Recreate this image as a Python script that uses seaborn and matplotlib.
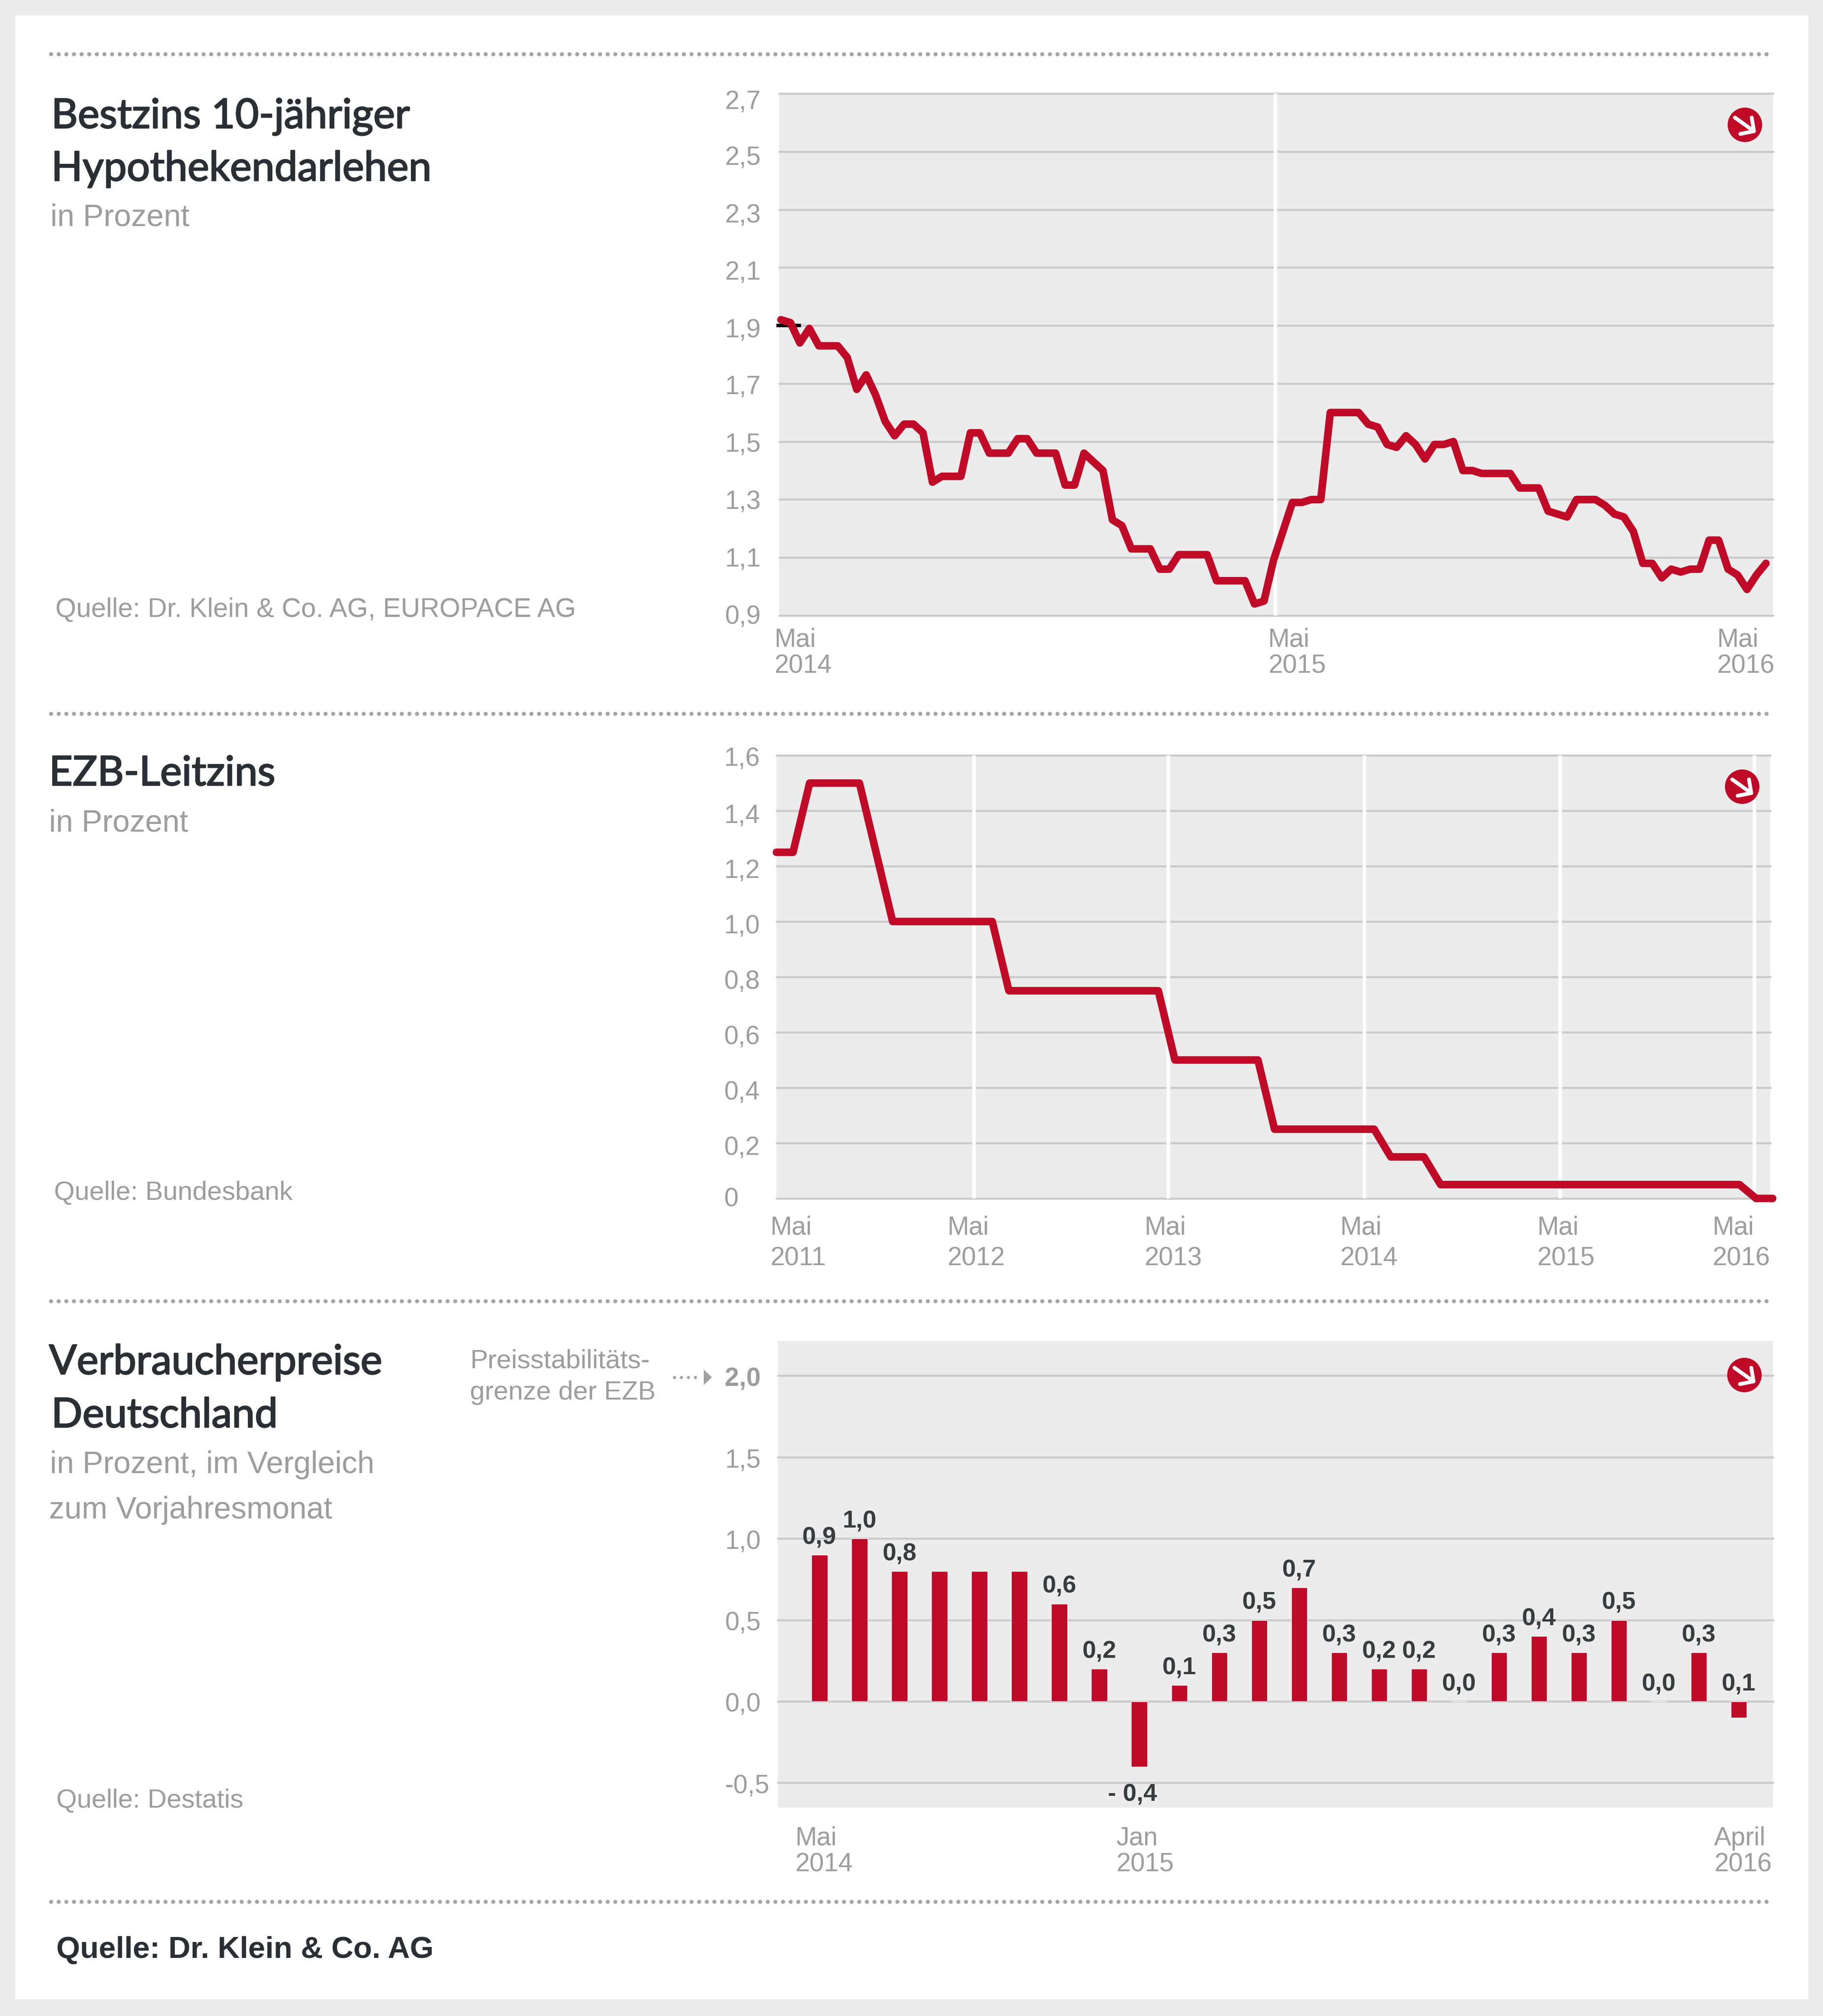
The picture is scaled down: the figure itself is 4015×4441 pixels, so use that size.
import matplotlib
matplotlib.use("Agg")
import matplotlib.pyplot as plt
import matplotlib.patheffects as pe
import seaborn as sns
from matplotlib.lines import Line2D
from matplotlib.patches import Circle, Rectangle, Polygon
from matplotlib.transforms import Affine2D

# Daten
bestzins = [1.92, 1.91, 1.84, 1.89, 1.83, 1.83, 1.83, 1.79, 1.68, 1.73, 1.66, 1.57, 1.52, 1.56, 1.56,
            1.53, 1.36, 1.38, 1.38, 1.38, 1.53, 1.53, 1.46, 1.46, 1.46, 1.51, 1.51, 1.46, 1.46, 1.46,
            1.35, 1.35, 1.46, 1.43, 1.40, 1.23, 1.21, 1.13, 1.13, 1.13, 1.06, 1.06, 1.11, 1.11, 1.11,
            1.11, 1.02, 1.02, 1.02, 1.02, 0.94, 0.95, 1.09, 1.19, 1.29, 1.29, 1.30, 1.30, 1.60, 1.60,
            1.60, 1.60, 1.56, 1.55, 1.49, 1.48, 1.52, 1.49, 1.44, 1.49, 1.49, 1.50, 1.40, 1.40, 1.39,
            1.39, 1.39, 1.39, 1.34, 1.34, 1.34, 1.26, 1.25, 1.24, 1.30, 1.30, 1.30, 1.28, 1.25, 1.24,
            1.19, 1.08, 1.08, 1.03, 1.06, 1.05, 1.06, 1.06, 1.16, 1.16, 1.06, 1.04, 0.99, 1.04, 1.08]
leitzins = [1.25, 1.25, 1.5, 1.5, 1.5, 1.5, 1.25, 1.0, 1.0, 1.0, 1.0, 1.0, 1.0, 1.0,
            0.75, 0.75, 0.75, 0.75, 0.75, 0.75, 0.75, 0.75, 0.75, 0.75,
            0.5, 0.5, 0.5, 0.5, 0.5, 0.5, 0.25, 0.25, 0.25, 0.25, 0.25, 0.25, 0.25,
            0.15, 0.15, 0.15, 0.05, 0.05, 0.05, 0.05, 0.05, 0.05, 0.05, 0.05, 0.05, 0.05,
            0.05, 0.05, 0.05, 0.05, 0.05, 0.05, 0.05, 0.05, 0.05, 0.0, 0.0]
vpi = [0.9, 1.0, 0.8, 0.8, 0.8, 0.8, 0.6, 0.2, -0.4, 0.1, 0.3, 0.5, 0.7, 0.3, 0.2, 0.2, 0.0, 0.3, 0.4,
       0.3, 0.5, 0.0, 0.3, -0.1]
vpi_labels = ['0,9', '1,0', '0,8', '', '', '', '0,6', '0,2', '- 0,4', '0,1', '0,3', '0,5', '0,7', '0,3',
              '0,2', '0,2', '0,0', '0,3', '0,4', '0,3', '0,5', '0,0', '0,3', '0,1']

yticks1 = [0.9, 1.1, 1.3, 1.5, 1.7, 1.9, 2.1, 2.3, 2.5, 2.7]
ylabels1 = ['0,9', '1,1', '1,3', '1,5', '1,7', '1,9', '2,1', '2,3', '2,5', '2,7']
yticks2 = [0, 0.2, 0.4, 0.6, 0.8, 1.0, 1.2, 1.4, 1.6]
ylabels2 = ['0', '0,2', '0,4', '0,6', '0,8', '1,0', '1,2', '1,4', '1,6']
yticks3 = [-0.5, 0, 0.5, 1.0, 1.5, 2.0]
ylabels3 = ['-0,5', '0,0', '0,5', '1,0', '1,5', '2,0']

xticks1 = [0, 52, 104]
xlabels1 = ['Mai\n2014', 'Mai\n2015', 'Mai\n2016']
xticks2 = [0, 11.9, 23.6, 35.4, 47.2, 58.9]
xlabels2 = ['Mai\n2011', 'Mai\n2012', 'Mai\n2013', 'Mai\n2014', 'Mai\n2015', 'Mai\n2016']
xticks3 = [0, 8, 23]
xlabels3 = ['Mai\n2014', 'Jan\n2015', 'April\n2016']

ROT = '#BF0A28'
GRAU = '#9D9D9D'
DUNKEL = '#2A2E35'
W, H = 4016, 4441

sns.set_style('white')
plt.rcParams['font.family'] = ['Liberation Sans', 'DejaVu Sans']

fig = plt.figure(figsize=(W / 100, H / 100), dpi=100, facecolor='#ECECEC')
px = Affine2D().scale(1, -1).translate(0, H)  # Pixel von oben links


def make_axes(x0, x1, y0, y1):
    ax = fig.add_axes([x0 / W, 1 - y1 / H, (x1 - x0) / W, (y1 - y0) / H], facecolor='#ECECEC')
    sns.despine(ax=ax, left=True, bottom=True)
    return ax


def style_axes(ax, yticks, ylabels, xticks, xlabels, xshift, ypad, ylab_dy, xlab_pad, spacing):
    ax.set_yticks(yticks)
    ax.set_yticklabels(ylabels, ha='left', va='center', fontsize=41, color=GRAU)
    ax.set_xticks(xticks)
    ax.set_xticklabels(xlabels, ha='left', va='top', fontsize=41, color=GRAU, linespacing=spacing)
    ax.tick_params(axis='both', length=0)
    ax.tick_params(axis='y', pad=ypad)
    ax.tick_params(axis='x', pad=xlab_pad)
    ax.set_axisbelow(True)
    ax.yaxis.grid(True, color='#CBCBCD', lw=3.3)
    ax.xaxis.grid(False)
    for g in ax.get_ygridlines():
        g.set_clip_on(False)
    for lab, dy in zip(ax.get_yticklabels(), ylab_dy):
        lab.set_transform(lab.get_transform() + Affine2D().translate(0, -dy))
    for lab, dx in zip(ax.get_xticklabels(), xshift):
        lab.set_transform(lab.get_transform() + Affine2D().translate(dx, 0))


def trend_icon(cx, cy):
    fig.add_artist(Circle((cx, cy), 38, transform=px, color=ROT, lw=0))
    arrow = dict(transform=px, color='white', lw=6, solid_capstyle='round', solid_joinstyle='round')
    fig.add_artist(Line2D([cx - 22, cx + 20], [cy - 16, cy + 14], **arrow))
    fig.add_artist(Line2D([cx + 15, cx + 20, cx - 10], [cy - 16, cy + 14, cy + 20], **arrow))


# Hintergrund und gepunktete Trennlinien
fig.add_artist(Rectangle((34, 34), 3949, 4370, transform=px, color='white', lw=0, zorder=-1))
for y in [119, 1572, 2866, 4189]:
    fig.add_artist(Line2D([112, 3906], [y, y], transform=px, color='#A5A5A5', lw=6.5,
                          ls=(0, (0.01, 1.85)), dash_capstyle='round'))

line_kws = dict(color=ROT, lw=12, errorbar=None, clip_on=False, zorder=4,
                solid_capstyle='round', solid_joinstyle='round')

# Bestzins
ax1 = make_axes(1716, 3905, 206, 1356)
sns.lineplot(x=list(range(len(bestzins))), y=bestzins, ax=ax1, **line_kws)
ax1.set_xlim(-0.19, 104.75)
ax1.set_ylim(0.9, 2.7)
ax1.set(xlabel=None, ylabel=None)
style_axes(ax1, yticks1, ylabels1, xticks1, xlabels1, [-15, -12, -108], 86,
           [3, 4, 6, 7, 8, 11, 12, 14, 15, 20], 19, 1.10)
for t in xticks1[1:2]:
    ax1.axvline(t + 0.2, color='white', lw=5.8, zorder=1)
ax1.hlines(1.9, -0.48, 2.1, color='black', lw=5.5, zorder=3, clip_on=False)

# Leitzins
ax2 = make_axes(1710, 3899, 1664, 2640)
sns.lineplot(x=list(range(len(leitzins))), y=leitzins, ax=ax2, **line_kws)
ax2.set_xlim(0.055, 59.86)
ax2.set_ylim(0, 1.6)
ax2.set(xlabel=None, ylabel=None)
style_axes(ax2, yticks2, ylabels2, xticks2, xlabels2, [-14, -59, -53, -53, -51, -93], 83,
           [3, 11, 11, 11, 11, 11, 11, 11, 9], 27, 1.34)
for t in xticks2[1:]:
    ax2.axvline(t, color='white', lw=5.8, zorder=1)

# Verbraucherpreise
ax3 = make_axes(1713, 3905, 2954, 3982)
sns.barplot(x=list(range(len(vpi))), y=vpi, ax=ax3, color=ROT, saturation=1, width=0.4, zorder=3)
ax3.set_xlim(-1.045, 23.86)
ax3.set_ylim(-0.652, 2.212)
ax3.set(xlabel=None, ylabel=None)
style_axes(ax3, yticks3, ylabels3, xticks3, xlabels3, [-54, -51, -54], 84, [8] * 6, 29.5, 1.09)
ax3.get_yticklabels()[-1].set_fontweight('bold')
for i, (lab, v) in enumerate(zip(vpi_labels, vpi)):
    if lab.startswith('-'):
        ax3.annotate(lab, (i, v), xytext=(-11, -55), textcoords='offset points', ha='center',
                     va='baseline', fontsize=39, fontweight='bold', color='#373C3F', zorder=5)
    elif lab:
        ax3.annotate(lab, (i, max(v, 0)), xytext=(0, 17), textcoords='offset points', ha='center',
                     va='baseline', fontsize=39, fontweight='bold', color='#373C3F', zorder=5)

trend_icon(3843, 275)
trend_icon(3837, 1733)
trend_icon(3842, 3029)

# Titel links
title_font = dict(family=['Lato', 'Open Sans'], fontsize=65, color=DUNKEL, transform=px, va='baseline',
                  path_effects=[pe.withStroke(linewidth=1.8, foreground=DUNKEL)])
sub_font = dict(fontsize=49, color=GRAU, transform=px, va='baseline')
src_font = dict(fontsize=42, color=GRAU, transform=px, va='baseline')

fig.text(113, 282, 'Bestzins 10-jähriger', **title_font)
fig.text(113, 398, 'Hypothekendarlehen', **title_font)
fig.text(111, 498, 'in Prozent', **sub_font)
fig.text(122, 1359, 'Quelle: Dr. Klein & Co. AG, EUROPACE AG', fontsize=42.5, color=GRAU, transform=px,
         va='baseline')

fig.text(108, 1730, 'EZB-Leitzins', **title_font)
fig.text(108, 1832, 'in Prozent', **sub_font)
fig.text(119, 2643, 'Quelle: Bundesbank', **src_font)

fig.text(108, 3027, 'Verbraucherpreise', **title_font)
fig.text(113, 3144, 'Deutschland', **title_font)
fig.text(110, 3245, 'in Prozent, im Vergleich', **sub_font)
fig.text(108, 3345, 'zum Vorjahresmonat', **sub_font)
fig.text(124, 3982, 'Quelle: Destatis', **src_font)

# Hinweis Preisstabilitaet mit Pfeil
fig.text(1035, 3013, 'Preisstabilitäts-', fontsize=42, color=GRAU, transform=px, va='baseline')
fig.text(1035, 3083, 'grenze der EZB', fontsize=42, color=GRAU, transform=px, va='baseline')
fig.add_artist(Line2D([1485, 1540], [3034, 3034], transform=px, color='#A0A0A0', lw=5,
                      ls=(0, (0.01, 2.2)), dash_capstyle='round'))
fig.add_artist(Polygon([(1550, 3017), (1568, 3034), (1550, 3051)], transform=px, color='#A0A0A0', lw=0))

fig.text(124, 4313, 'Quelle: Dr. Klein & Co. AG', fontsize=48.4, fontweight='bold', color=DUNKEL,
         transform=px, va='baseline')

plt.savefig('out.png', dpi=100, facecolor=fig.get_facecolor())
